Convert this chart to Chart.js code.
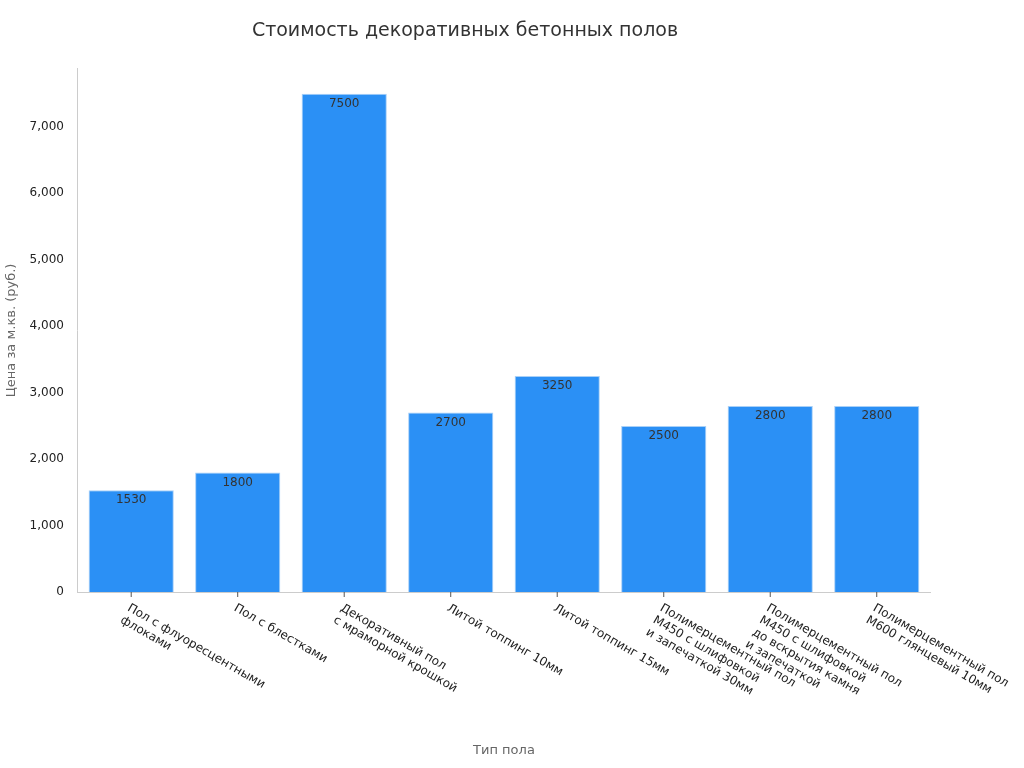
<!DOCTYPE html>
<html>
<head>
<meta charset="utf-8">
<script src="https://cdn.jsdelivr.net/npm/chart.js@4"></script>
<style>
  body { margin: 0; background: #fff; }
  #wrap { width: 1024px; height: 768px; }
</style>
</head>
<body>
<div id="wrap"><canvas id="c"></canvas></div>
<script>
/* ---------- Data ---------- */
const categories = [
    ['Пол с флуоресцентными', 'флоками'],
    ['Пол с блестками'],
    ['Декоративный пол', 'с мраморной крошкой'],
    ['Литой топпинг 10мм'],
    ['Литой топпинг 15мм'],
    ['Полимерцементный пол', 'М450 с шлифовкой', 'и запечаткой 30мм'],
    ['Полимерцементный пол', 'М450 с шлифовкой', 'до вскрытия камня', 'и запечаткой'],
    ['Полимерцементный пол', 'М600 глянцевый 10мм']
];
const prices = [1530, 1800, 7500, 2700, 3250, 2500, 2800, 2800];
const yTicks = [0, 1000, 2000, 3000, 4000, 5000, 6000, 7000];

const FONT = 'DejaVu Sans';

/* ---------- Plugins: rotated category labels + value labels ---------- */
const labelPlugin = {
    id: 'labels',
    afterDatasetsDraw(chart) {
        const ctx = chart.ctx;
        const x = chart.scales.x;
        const bottom = chart.chartArea.bottom;
        ctx.save();
        // value labels inside bar tops
        ctx.font = '12px ' + FONT;
        ctx.fillStyle = '#333';
        ctx.textAlign = 'center';
        ctx.textBaseline = 'top';
        chart.getDatasetMeta(0).data.forEach((bar, i) => {
            ctx.fillText(String(prices[i]), bar.x, bar.y + 4);
        });
        // tick marks and rotated labels
        ctx.strokeStyle = '#555';
        ctx.lineWidth = 1;
        categories.forEach((lines, i) => {
            const px = x.getPixelForTick(i);
            ctx.beginPath();
            ctx.moveTo(px, bottom);
            ctx.lineTo(px, bottom + 5);
            ctx.stroke();
            ctx.save();
            ctx.translate(px, bottom + 10);
            ctx.rotate(Math.PI / 6);
            ctx.textAlign = 'left';
            ctx.textBaseline = 'top';
            ctx.fillStyle = '#222';
            ctx.font = '12px ' + FONT;
            lines.forEach((t, j) => ctx.fillText(t, 0, j * 14));
            ctx.restore();
        });
        ctx.restore();
    }
};

/* ---------- Chart ---------- */
new Chart(document.getElementById('c'), {
    type: 'bar',
    data: {
        labels: categories.map(l => l.join(' ')),
        datasets: [{
            data: prices,
            backgroundColor: '#2b90f5',
            borderColor: '#a9d0f7',
            borderWidth: 1,
            categoryPercentage: 1,
            barPercentage: 0.8
        }]
    },
    options: {
        responsive: true,
        maintainAspectRatio: false,
        animation: false,
        layout: { padding: { top: 10, right: 94, left: 0, bottom: 6 } },
        plugins: {
            legend: { display: false },
            tooltip: { enabled: false },
            title: {
                display: true,
                text: 'Стоимость декоративных бетонных полов',
                color: '#333',
                font: { family: FONT, size: 19, weight: 'normal' },
                padding: { top: 10, bottom: 26 }
            }
        },
        scales: {
            x: {
                grid: { display: false },
                border: { color: '#ccc' },
                ticks: { display: false },
                afterFit: s => { s.height = 170; },
                title: {
                    display: true,
                    text: 'Тип пола',
                    color: '#666',
                    font: { family: FONT, size: 13 }
                }
            },
            y: {
                min: 0,
                max: 7875,
                grid: { display: false },
                border: { color: '#ccc' },
                afterBuildTicks: s => { s.ticks = yTicks.map(v => ({ value: v })); },
                ticks: { color: '#222', font: { family: FONT, size: 12 }, padding: 6 },
                title: {
                    display: true,
                    text: 'Цена за м.кв. (руб.)',
                    color: '#666',
                    font: { family: FONT, size: 13 }
                }
            }
        }
    },
    plugins: [labelPlugin]
});
</script>
</body>
</html>
